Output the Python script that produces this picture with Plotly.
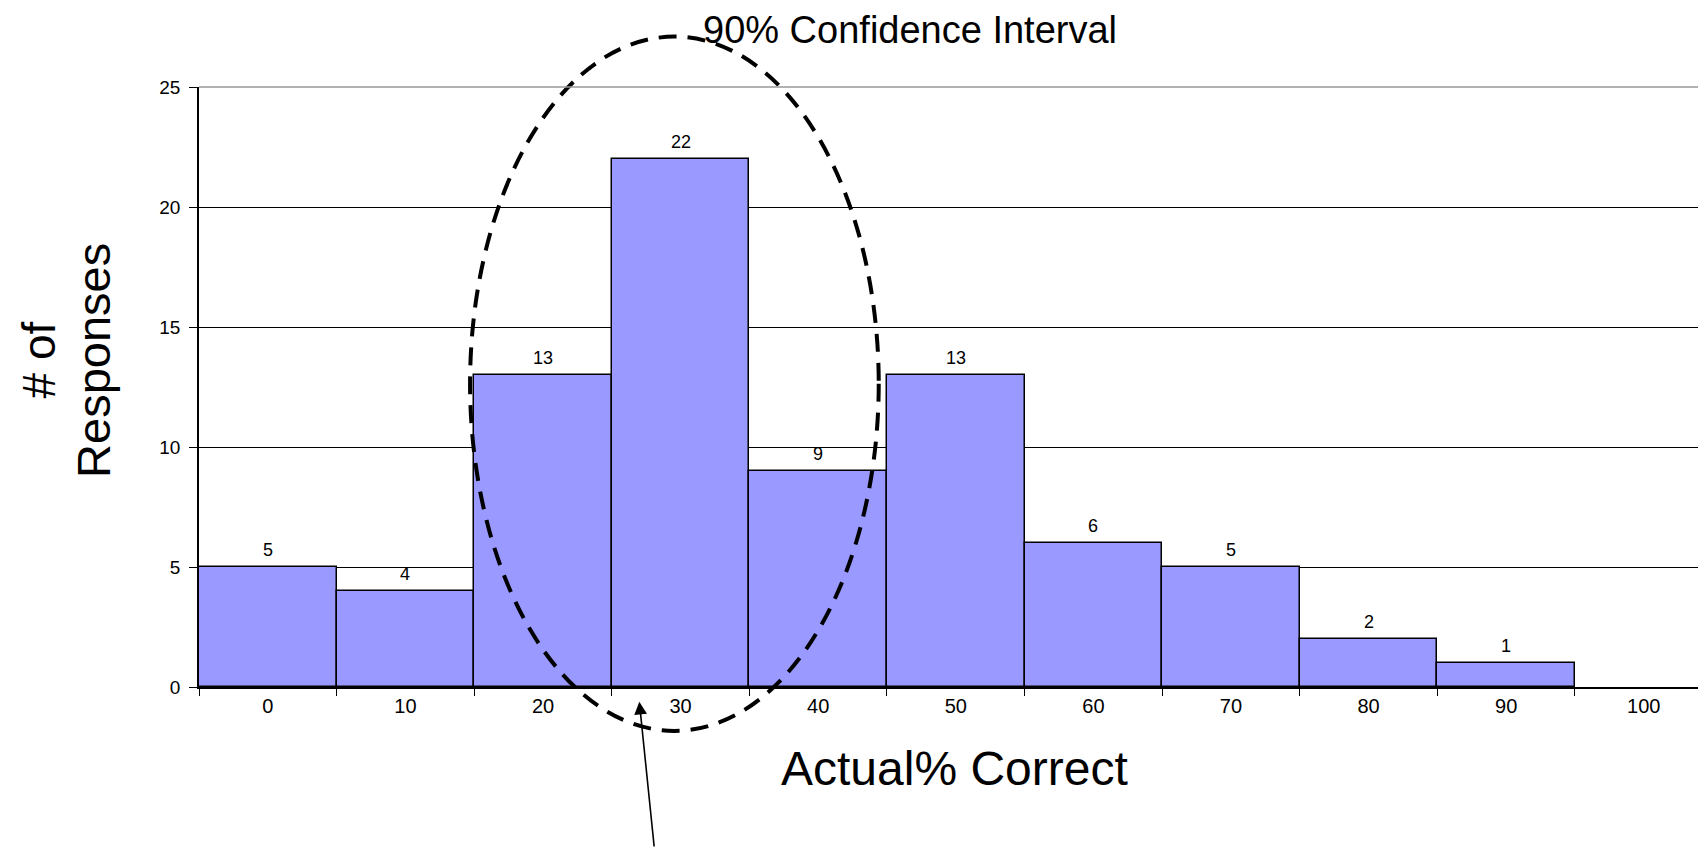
import plotly.graph_objects as go

# histogram of responses
bins = ["0", "10", "20", "30", "40", "50", "60", "70", "80", "90", "100"]
counts = [5, 4, 13, 22, 9, 13, 6, 5, 2, 1, None]
bar_labels = ["5", "4", "13", "22", "9", "13", "6", "5", "2", "1", ""]

# confidence interval ellipse (category index / count units) and arrow tip
ci_x = [1.47, 4.44]
ci_y = [-1.83, 27.1]
arrow_tip = (2.70, -0.61)
Y_MAX = 25

FONT = "Liberation Sans, Arial, sans-serif"

fig = go.Figure()
fig.add_bar(
    x=bins,
    y=counts,
    marker=dict(color="#9999FF", line=dict(color="black", width=1.5)),
    width=1,
    hoverinfo="x+y",
)

# value labels above bars (index-based x, category strings look like numbers)
for i, (c, t) in enumerate(zip(counts, bar_labels)):
    if c is None:
        continue
    fig.add_annotation(x=i, y=c, text=t, showarrow=False, yanchor="middle",
                       yshift=17, font=dict(size=18, color="black", family=FONT))

# dashed ellipse around the confidence interval (y in paper units so it isn't clipped)
fig.add_shape(type="circle", xref="x", yref="paper",
              x0=ci_x[0], x1=ci_x[1], y0=ci_y[0] / Y_MAX, y1=ci_y[1] / Y_MAX,
              line=dict(color="black", width=4, dash="18px,11px"))

# top border line in grey
fig.add_shape(type="line", xref="paper", yref="paper", x0=0, x1=1, y0=1, y1=1,
              line=dict(color="#999999", width=1.5))

fig.add_annotation(x=arrow_tip[0], y=arrow_tip[1] / Y_MAX, xref="x", yref="paper",
                   ax=15, ay=165, text="", showarrow=True, arrowhead=2,
                   arrowsize=1.6, arrowwidth=1.6, arrowcolor="black")

fig.add_annotation(xref="paper", yref="paper", x=0.4743, y=1.1317, yanchor="top",
                   borderpad=0, text="90% Confidence Interval", showarrow=False,
                   font=dict(size=38, color="black", family=FONT))
fig.add_annotation(xref="paper", yref="paper", x=0.5043, y=-0.183,
                   text="Actual% Correct", showarrow=False,
                   font=dict(size=48, color="black", family=FONT))
fig.add_annotation(xref="paper", yref="paper", x=-0.1251, y=0.545,
                   text="# of", showarrow=False, textangle=-90,
                   font=dict(size=46, color="black", family=FONT))
fig.add_annotation(xref="paper", yref="paper", x=-0.0898, y=0.545,
                   text="Responses", showarrow=False, textangle=-90,
                   font=dict(size=47, color="black", family=FONT))

# page body has an 8px margin, so the figure is 8px smaller each way;
# the last category runs off the right edge as in the original
fig.update_layout(
    width=1690, height=840,
    margin=dict(l=191, r=0, t=79, b=161),
    plot_bgcolor="white", paper_bgcolor="white",
    bargap=0, showlegend=False,
    font=dict(family=FONT, color="black"),
)
fig.update_xaxes(
    type="category", range=[-0.5, 10.394],
    tickson="boundaries", ticks="outside", ticklen=7, tickcolor="black",
    showline=True, linecolor="black", linewidth=1.5,
    showgrid=False, tickfont=dict(size=20),
)
fig.update_yaxes(
    range=[0, Y_MAX], dtick=5, ticks="outside", ticklen=8, tickcolor="black",
    showline=True, linecolor="black", linewidth=1.5,
    showgrid=True, gridcolor="black", gridwidth=1,
    tickfont=dict(size=19), ticklabelstandoff=5, zeroline=False,
)

fig.write_html("out.html")
